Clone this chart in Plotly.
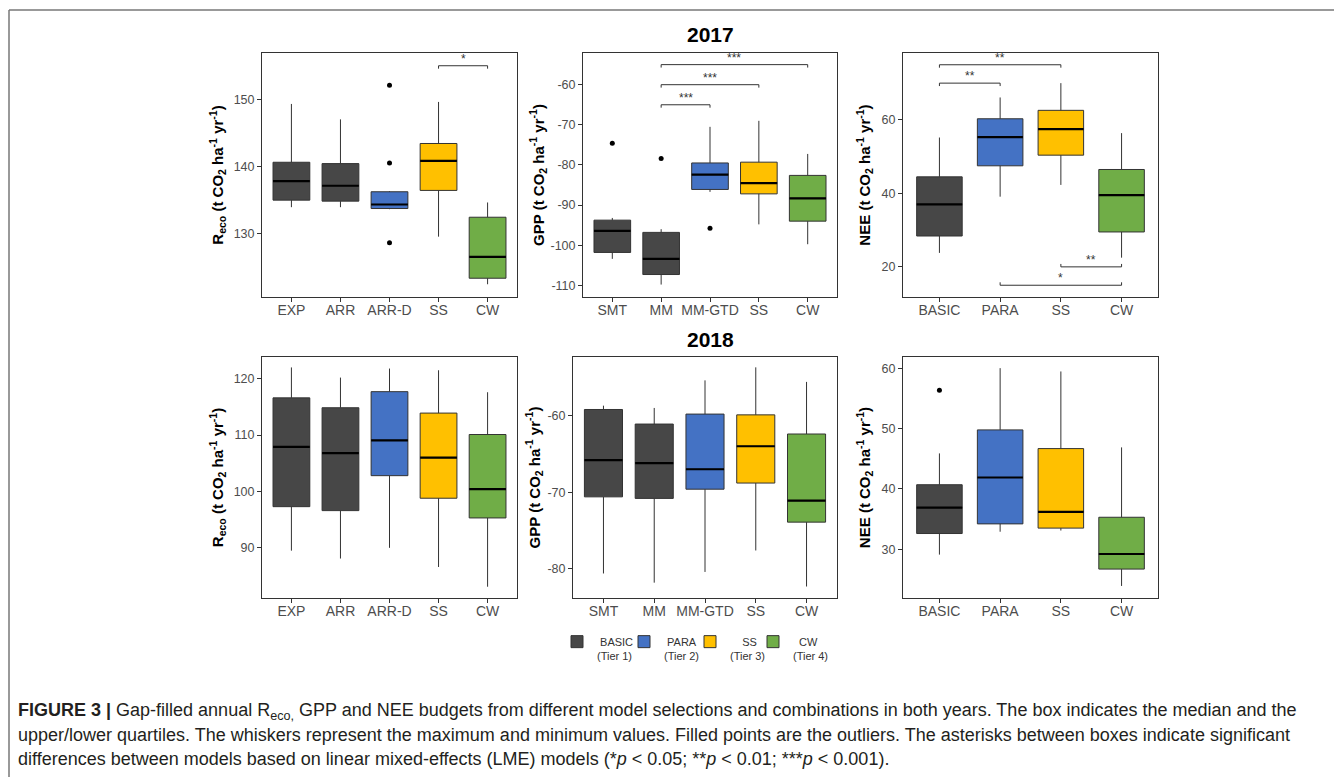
import plotly.graph_objects as go

# ---------------- data ----------------
TIER_COLORS = {"BASIC": "#474747", "PARA": "#4472C4", "SS": "#FFC000", "CW": "#70AD47"}
TIER_LABELS = {"BASIC": "&nbsp;BASIC<br>(Tier 1)", "PARA": "&nbsp;PARA<br>(Tier 2)",
               "SS": "&nbsp;&nbsp;&nbsp;&nbsp;SS<br>(Tier 3)", "CW": "&nbsp;&nbsp;CW<br>(Tier 4)"}
TIER_ORDER = ["BASIC", "PARA", "SS", "CW"]

# R_eco 2017
reco17_cats = ["EXP", "ARR", "ARR-D", "SS", "CW"]
reco17_tier = ["BASIC", "BASIC", "PARA", "SS", "CW"]
reco17_min = [133.9, 133.9, 133.6, 129.5, 122.4]
reco17_q1 = [134.95, 134.8, 133.7, 136.4, 123.3]
reco17_med = [137.8, 137.1, 134.3, 140.8, 126.5]
reco17_q3 = [140.6, 140.4, 136.2, 143.4, 132.4]
reco17_max = [149.3, 147.0, 136.3, 149.6, 134.6]
reco17_out_cat = ["ARR-D", "ARR-D", "ARR-D"]
reco17_out_val = [152.1, 140.5, 128.6]
reco17_ticks = [130, 140, 150]
reco17_sig_a = ["SS"]
reco17_sig_b = ["CW"]
reco17_sig_y = [155.0]
reco17_sig_lab = ["*"]
reco17_sig_dir = [1]

# GPP 2017
gpp17_cats = ["SMT", "MM", "MM-GTD", "SS", "CW"]
gpp17_tier = ["BASIC", "BASIC", "PARA", "SS", "CW"]
gpp17_min = [-103.4, -109.8, -86.7, -94.8, -99.75]
gpp17_q1 = [-101.8, -107.3, -86.1, -87.2, -94.0]
gpp17_med = [-96.4, -103.4, -82.4, -84.5, -88.3]
gpp17_q3 = [-93.75, -96.8, -79.5, -79.3, -82.6]
gpp17_max = [-93.2, -96.0, -70.5, -69.0, -77.25]
gpp17_out_cat = ["SMT", "MM", "MM-GTD"]
gpp17_out_val = [-74.6, -78.4, -95.8]
gpp17_ticks = [-110, -100, -90, -80, -70, -60]
gpp17_sig_a = ["MM", "MM", "MM"]
gpp17_sig_b = ["MM-GTD", "SS", "CW"]
gpp17_sig_y = [-65.0, -60.0, -55.0]
gpp17_sig_lab = ["***", "***", "***"]
gpp17_sig_dir = [1, 1, 1]

# NEE 2017
nee17_cats = ["BASIC", "PARA", "SS", "CW"]
nee17_tier = ["BASIC", "PARA", "SS", "CW"]
nee17_min = [23.8, 39.1, 42.3, 22.5]
nee17_q1 = [28.4, 47.5, 50.4, 29.5]
nee17_med = [37.0, 55.3, 57.5, 39.5]
nee17_q3 = [44.5, 60.3, 62.6, 46.5]
nee17_max = [55.2, 66.1, 70.0, 56.4]
nee17_out_cat = []
nee17_out_val = []
nee17_ticks = [20, 40, 60]
nee17_sig_a = ["BASIC", "BASIC", "SS", "PARA"]
nee17_sig_b = ["PARA", "SS", "CW", "CW"]
nee17_sig_y = [70.0, 75.0, 20.0, 15.0]
nee17_sig_lab = ["**", "**", "**", "*"]
nee17_sig_dir = [1, 1, -1, -1]

# R_eco 2018
reco18_cats = ["EXP", "ARR", "ARR-D", "SS", "CW"]
reco18_tier = ["BASIC", "BASIC", "PARA", "SS", "CW"]
reco18_min = [89.5, 88.1, 90.0, 86.6, 83.1]
reco18_q1 = [97.3, 96.6, 102.8, 98.8, 95.3]
reco18_med = [107.9, 106.8, 109.05, 106.0, 100.4]
reco18_q3 = [116.6, 114.85, 117.7, 113.9, 110.1]
reco18_max = [122.0, 120.2, 121.8, 121.5, 117.6]
reco18_out_cat = []
reco18_out_val = []
reco18_ticks = [90, 100, 110, 120]

# GPP 2018
gpp18_cats = ["SMT", "MM", "MM-GTD", "SS", "CW"]
gpp18_tier = ["BASIC", "BASIC", "PARA", "SS", "CW"]
gpp18_min = [-80.6, -81.8, -80.4, -77.6, -82.3]
gpp18_q1 = [-70.6, -70.8, -69.6, -68.8, -73.9]
gpp18_med = [-65.8, -66.2, -67.0, -64.0, -71.1]
gpp18_q3 = [-59.2, -61.1, -59.8, -59.9, -62.4]
gpp18_max = [-58.7, -59.0, -55.4, -53.7, -55.6]
gpp18_out_cat = []
gpp18_out_val = []
gpp18_ticks = [-80, -70, -60]

# NEE 2018
nee18_cats = ["BASIC", "PARA", "SS", "CW"]
nee18_tier = ["BASIC", "PARA", "SS", "CW"]
nee18_min = [29.1, 32.9, 33.1, 23.9]
nee18_q1 = [32.6, 34.2, 33.5, 26.7]
nee18_med = [36.9, 41.9, 36.2, 29.2]
nee18_q3 = [40.7, 49.8, 46.7, 35.3]
nee18_max = [45.9, 60.05, 59.5, 46.9]
nee18_out_cat = ["BASIC"]
nee18_out_val = [56.4]
nee18_ticks = [30, 40, 50, 60]

RECO_T = "<b>R<sub>eco</sub> (t CO<sub>2</sub> ha<sup>-1</sup> yr<sup>-1</sup>)</b>"
GPP_T = "<b>GPP (t CO<sub>2</sub> ha<sup>-1</sup> yr<sup>-1</sup>)</b>"
NEE_T = "<b>NEE (t CO<sub>2</sub> ha<sup>-1</sup> yr<sup>-1</sup>)</b>"

# ---------------- geometry (page pixels; the page body has an 8px margin) ----------------
OX, OY = 8, 8
W, H = 1334, 769
FONT = "Arial, Liberation Sans, Helvetica, sans-serif"


def fx(px):
    return (px - OX) / W


def fy(py):
    return 1 - (py - OY) / H


panels = [
    dict(cats=reco17_cats, tier=reco17_tier, lo=reco17_min, q1=reco17_q1, med=reco17_med,
         q3=reco17_q3, hi=reco17_max, oc=reco17_out_cat, ov=reco17_out_val,
         sig=(reco17_sig_a, reco17_sig_b, reco17_sig_y, reco17_sig_lab, reco17_sig_dir),
         px=(262, 517), py=(53, 297), yr=(120.5, 156.9), yt=reco17_ticks, title=RECO_T, so=6),
    dict(cats=gpp17_cats, tier=gpp17_tier, lo=gpp17_min, q1=gpp17_q1, med=gpp17_med,
         q3=gpp17_q3, hi=gpp17_max, oc=gpp17_out_cat, ov=gpp17_out_val,
         sig=(gpp17_sig_a, gpp17_sig_b, gpp17_sig_y, gpp17_sig_lab, gpp17_sig_dir),
         px=(583, 837), py=(53, 297), yr=(-112.9, -52.1), yt=gpp17_ticks, title=GPP_T, so=2),
    dict(cats=nee17_cats, tier=nee17_tier, lo=nee17_min, q1=nee17_q1, med=nee17_med,
         q3=nee17_q3, hi=nee17_max, oc=nee17_out_cat, ov=nee17_out_val,
         sig=(nee17_sig_a, nee17_sig_b, nee17_sig_y, nee17_sig_lab, nee17_sig_dir),
         px=(903, 1158), py=(53, 297), yr=(11.8, 78.2), yt=nee17_ticks, title=NEE_T, so=7),
    dict(cats=reco18_cats, tier=reco18_tier, lo=reco18_min, q1=reco18_q1, med=reco18_med,
         q3=reco18_q3, hi=reco18_max, oc=reco18_out_cat, ov=reco18_out_val, sig=None,
         px=(262, 517), py=(357, 598), yr=(81.1, 123.85), yt=reco18_ticks, title=RECO_T, so=6),
    dict(cats=gpp18_cats, tier=gpp18_tier, lo=gpp18_min, q1=gpp18_q1, med=gpp18_med,
         q3=gpp18_q3, hi=gpp18_max, oc=gpp18_out_cat, ov=gpp18_out_val, sig=None,
         px=(573, 837), py=(357, 598), yr=(-83.8, -52.35), yt=gpp18_ticks, title=GPP_T, so=3),
    dict(cats=nee18_cats, tier=nee18_tier, lo=nee18_min, q1=nee18_q1, med=nee18_med,
         q3=nee18_q3, hi=nee18_max, oc=nee18_out_cat, ov=nee18_out_val, sig=None,
         px=(903, 1158), py=(357, 598), yr=(21.9, 61.9), yt=nee18_ticks, title=NEE_T, so=7),
]

# legend key centres (page px)
legend_key_x = {"BASIC": 577, "PARA": 644, "SS": 710, "CW": 773}
legend_top_y = 628
legend_names = {t: ("legend" if i == 0 else f"legend{i + 1}") for i, t in enumerate(TIER_ORDER)}

fig = go.Figure()
annotations = []
layout_axes = {}
shown = set()
BOXW = 0.75

for k, p in enumerate(panels, start=1):
    xa = "x" if k == 1 else f"x{k}"
    ya = "y" if k == 1 else f"y{k}"
    n = len(p["cats"])
    pos = {c: i + 1 for i, c in enumerate(p["cats"])}
    for i, c in enumerate(p["cats"]):
        t = p["tier"][i]
        fig.add_trace(go.Box(
            x=[i + 1], q1=[p["q1"][i]], median=[p["med"][i]], q3=[p["q3"][i]],
            lowerfence=[p["lo"][i]], upperfence=[p["hi"][i]], orientation="v",
            width=BOXW, whiskerwidth=0, boxpoints=False,
            fillcolor=TIER_COLORS[t], line=dict(color="#333333", width=1),
            name=TIER_LABELS[t], legendgroup=t, showlegend=(t not in shown),
            legend=legend_names[t], xaxis=xa, yaxis=ya, hoverinfo="skip"))
        shown.add(t)
    # medians (thicker black line, as in ggplot)
    mx, my = [], []
    for i, m in enumerate(p["med"]):
        mx += [i + 1 - BOXW / 2, i + 1 + BOXW / 2, None]
        my += [m, m, None]
    fig.add_trace(go.Scatter(x=mx, y=my, mode="lines", line=dict(color="black", width=2.2),
                             showlegend=False, xaxis=xa, yaxis=ya, hoverinfo="skip"))
    # outliers
    if p["oc"]:
        fig.add_trace(go.Scatter(x=[pos[c] for c in p["oc"]], y=p["ov"], mode="markers",
                                 marker=dict(color="black", size=5), showlegend=False,
                                 xaxis=xa, yaxis=ya, hoverinfo="skip"))
    # significance brackets
    if p["sig"]:
        sa, sb, sy, sl, sd = p["sig"]
        tip = 0.012 * (p["yr"][1] - p["yr"][0])
        for a, b, yv, lab, d in zip(sa, sb, sy, sl, sd):
            xa_, xb_ = pos[a], pos[b]
            fig.add_trace(go.Scatter(x=[xa_, xa_, xb_, xb_], y=[yv - d * tip, yv, yv, yv - d * tip],
                                     mode="lines", line=dict(color="#333333", width=1),
                                     showlegend=False, xaxis=xa, yaxis=ya, hoverinfo="skip"))
            annotations.append(dict(x=(xa_ + xb_) / 2, y=yv, xref=xa, yref=ya, text=lab,
                                    showarrow=False, yanchor="bottom", yshift=-2,
                                    font=dict(size=12, color="#333333", family=FONT)))
    axkey = "xaxis" if k == 1 else f"xaxis{k}"
    aykey = "yaxis" if k == 1 else f"yaxis{k}"
    common = dict(showline=True, mirror=True, linecolor="#333333", linewidth=1,
                  ticks="outside", ticklen=4, tickcolor="#333333", showgrid=False,
                  zeroline=False, automargin=False, fixedrange=True)
    layout_axes[axkey] = dict(common, domain=[fx(p["px"][0]), fx(p["px"][1])], anchor=ya,
                              range=[0.4, n + 0.6], tickvals=list(range(1, n + 1)),
                              ticktext=p["cats"], ticklabelstandoff=-4,
                              tickfont=dict(size=14, color="#4D4D4D", family=FONT))
    layout_axes[aykey] = dict(common, domain=[fy(p["py"][1]), fy(p["py"][0])], anchor=xa,
                              range=list(p["yr"]), tickvals=p["yt"],
                              ticktext=[str(v) for v in p["yt"]],
                              tickfont=dict(size=12.5, color="#4D4D4D", family=FONT),
                              title=dict(text=p["title"], font=dict(size=15, color="black", family=FONT),
                                         standoff=p["so"]))

# year titles
for txt, yp in [("2017", 35), ("2018", 339)]:
    annotations.append(dict(x=fx(710), y=fy(yp), xref="paper", yref="paper", text=f"<b>{txt}</b>",
                            showarrow=False, xanchor="center", yanchor="middle",
                            font=dict(size=21, color="black", family=FONT)))

# caption
cap = [
    "<b>FIGURE 3 |</b> Gap-filled annual R<sub>eco,</sub> GPP and NEE budgets from different model selections and combinations in both years. The box indicates the median and the",
    "upper/lower quartiles. The whiskers represent the maximum and minimum values. Filled points are the outliers. The asterisks between boxes indicate significant",
    "differences between models based on linear mixed-effects (LME) models (*<i>p</i> &lt; 0.05; **<i>p</i> &lt; 0.01; ***<i>p</i> &lt; 0.001).",
]
for txt, yp in zip(cap, [711, 735, 759]):
    annotations.append(dict(x=fx(16), y=fy(yp), xref="paper", yref="paper", text=txt,
                            showarrow=False, xanchor="left", yanchor="middle", align="left",
                            font=dict(size=18, color="#231F20", family=FONT)))

shapes = [
    dict(type="line", xref="paper", yref="paper", x0=fx(9), x1=1, y0=fy(10), y1=fy(10),
         line=dict(color="#777777", width=1.5)),
    dict(type="line", xref="paper", yref="paper", x0=fx(9), x1=fx(9), y0=fy(10), y1=0,
         line=dict(color="#777777", width=1.5)),
]

legends = {}
for t in TIER_ORDER:
    legends[legend_names[t]] = dict(
        x=fx(legend_key_x[t] - 20), y=fy(legend_top_y), xanchor="left", yanchor="top",
        font=dict(size=11, color="#333333", family=FONT), valign="top",
        bgcolor="rgba(0,0,0,0)", itemwidth=30, orientation="h")

fig.update_layout(
    width=W, height=H, margin=dict(l=0, r=0, t=0, b=0),
    paper_bgcolor="white", plot_bgcolor="white", boxmode="overlay",
    font=dict(family=FONT, color="#333333"),
    annotations=annotations, shapes=shapes,
    **legends,
    **layout_axes,
)

fig.write_html("out.html", config={"displayModeBar": False})
